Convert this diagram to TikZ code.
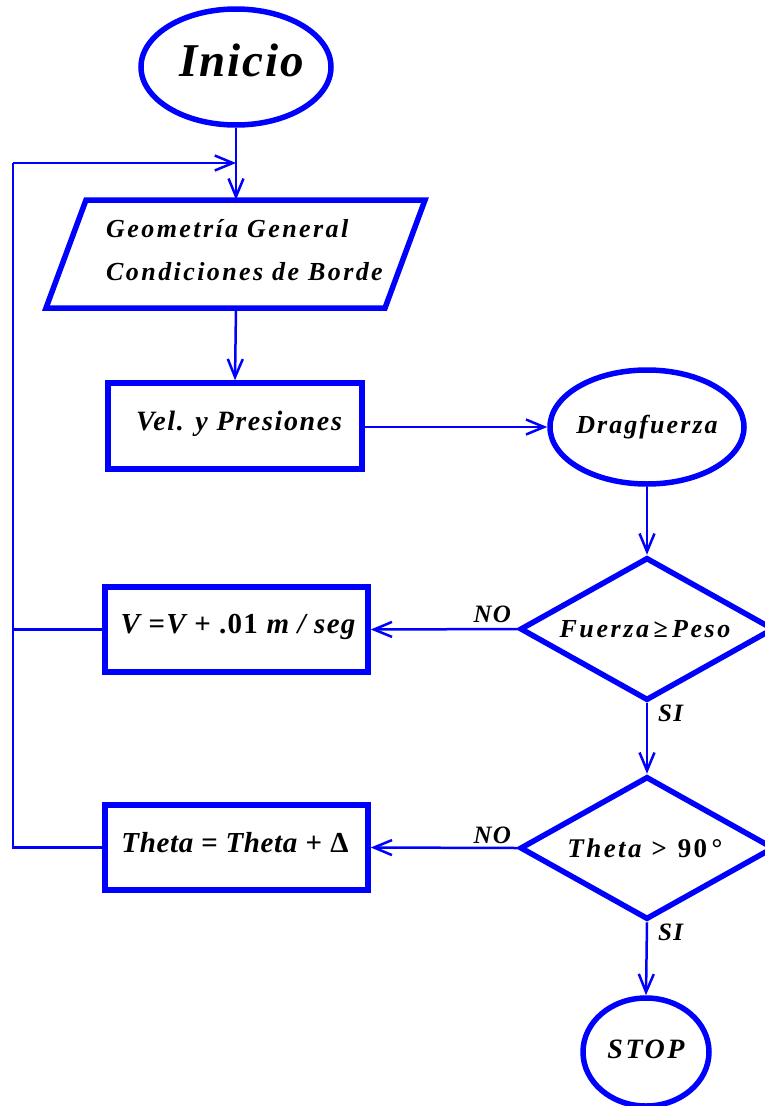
\documentclass[tikz,border=0pt]{standalone}
\usepackage{fontspec}
\setmainfont{Liberation Serif}
\usetikzlibrary{shapes.geometric,arrows.meta,calc}
\definecolor{fblue}{RGB}{0,0,255}
\newcommand{\bif}[2]{\bfseries\itshape\fontsize{#1}{#1}\selectfont\addfontfeatures{LetterSpace=#2}}
\begin{document}
\begin{tikzpicture}[x=1pt,y=-1pt,
  shapeline/.style={draw=fblue,line width=5.5pt},
  txt/.style={text=black,inner sep=0pt,anchor=base},
  conn/.style={draw=fblue,line width=2.5pt},
  arr/.style={conn,-{Straight Barb[length=18pt,width=15pt,line width=2.5pt]}},
  procbox/.style={shapeline,rectangle,minimum width=260pt,minimum height=85pt,inner sep=0pt},
  decide/.style={shapeline,diamond,minimum width=254pt,minimum height=143pt,inner sep=0pt},
  lbl/.style={font=\bif{25}{5},inner sep=0pt}
]
\useasboundingbox (0,0) rectangle (765,1106);
\clip (0,0) rectangle (765,1106);
% start
\node[shapeline,ellipse,minimum width=190pt,minimum height=116pt,inner sep=0pt] (ini) at (236,67) {};
\node[txt,font=\bif{47}{4}] (initxt) at (242,76) {Inicio};
% parallelogram
\node[minimum width=300pt,minimum height=108pt,inner sep=0pt] (geo) at (236,254) {};
\draw[shapeline] (86,200) -- (425,200) -- (385,308) -- (46,308) -- cycle;
\node[txt,anchor=base west,font=\bif{26}{9.3}] (geo1) at (106,237) {Geometría General};
\node[txt,anchor=base west,font=\bif{26}{9.3}] (geo2) at (106,280) {Condiciones de Borde};
% velocity box
\node[procbox,minimum width=254pt,minimum height=86pt] (vel) at (235,426) {};
\node[txt,font=\bif{28}{6}] (veltxt) at (239,430) {Vel. y Presiones};
% dragfuerza
\node[shapeline,ellipse,minimum width=194pt,minimum height=114pt,inner sep=0pt] (drag) at (647,427) {};
\node[txt,font=\bif{26}{8}] (dragtxt) at (647,433) {Dragfuerza};
% decision 1
\node[decide] (d1) at (647,629) {};
\node[txt,font=\bif{26}{10}] (d1txt) at (645,637) {Fuerza\,≥\,Peso};
% V box
\node[procbox,minimum width=263pt,minimum height=85pt] (vbox) at (236.5,629.5) {};
\node[txt,font=\bif{29}{4.4}] (vtxt) at (238,633) {V =V + \textup{.01} m / seg};
% decision 2
\node[decide] (d2) at (647,848) {};
\node[txt,font=\bif{27}{9}] (d2txt) at (645,857) {Theta > \textup{90\,°}};
% Theta box
\node[procbox,minimum width=263pt,minimum height=85pt] (tbox) at (236.5,847.5) {};
\node[txt,font=\bif{29}{2.2}] (ttxt) at (235,852) {Theta = Theta + \textup{Δ}};
% stop
\node[shapeline,ellipse,minimum width=126pt,minimum height=108pt,inner sep=0pt] (stop) at (646,1052) {};
\node[txt,font=\bif{28}{9}] (stoptxt) at (646,1058) {STOP};
% labels
\node[txt,lbl,anchor=base] (no1) at ($(d1.west)+(-25,-7)$) {NO};
\node[txt,lbl,anchor=base west] (si1) at ($(d1.south)+(11,18)$) {SI};
\node[txt,lbl,anchor=base] (no2) at ($(d2.west)+(-25,-5)$) {NO};
\node[txt,lbl,anchor=base west] (si2) at ($(d2.south)+(11,18)$) {SI};
% loop coordinates
\coordinate (jtop) at (ini.south |- 0,163);
\coordinate (ltop) at (13,163);
\coordinate (lmid) at (13,629.5);
\coordinate (lbot) at (13,847.5);
% connectors
\draw[arr] (ini.south) -- (geo.north);
\draw[arr] (ltop) -- (jtop);
\draw[conn] (tbox.west) -- (lbot) -- (ltop);
\draw[conn] (vbox.west) -- (lmid);
\draw[arr] (geo.south) -- (vel.north);
\draw[arr] (vel.east |- drag.west) -- (drag.west);
\draw[arr] (drag.south) -- (d1.north);
\draw[arr] (d1.west) -- (vbox.east);
\draw[arr] (d1.south) -- (d2.north);
\draw[arr] (d2.west) -- (tbox.east);
\draw[arr] (d2.south) -- (stop.north);
\end{tikzpicture}
\end{document}
